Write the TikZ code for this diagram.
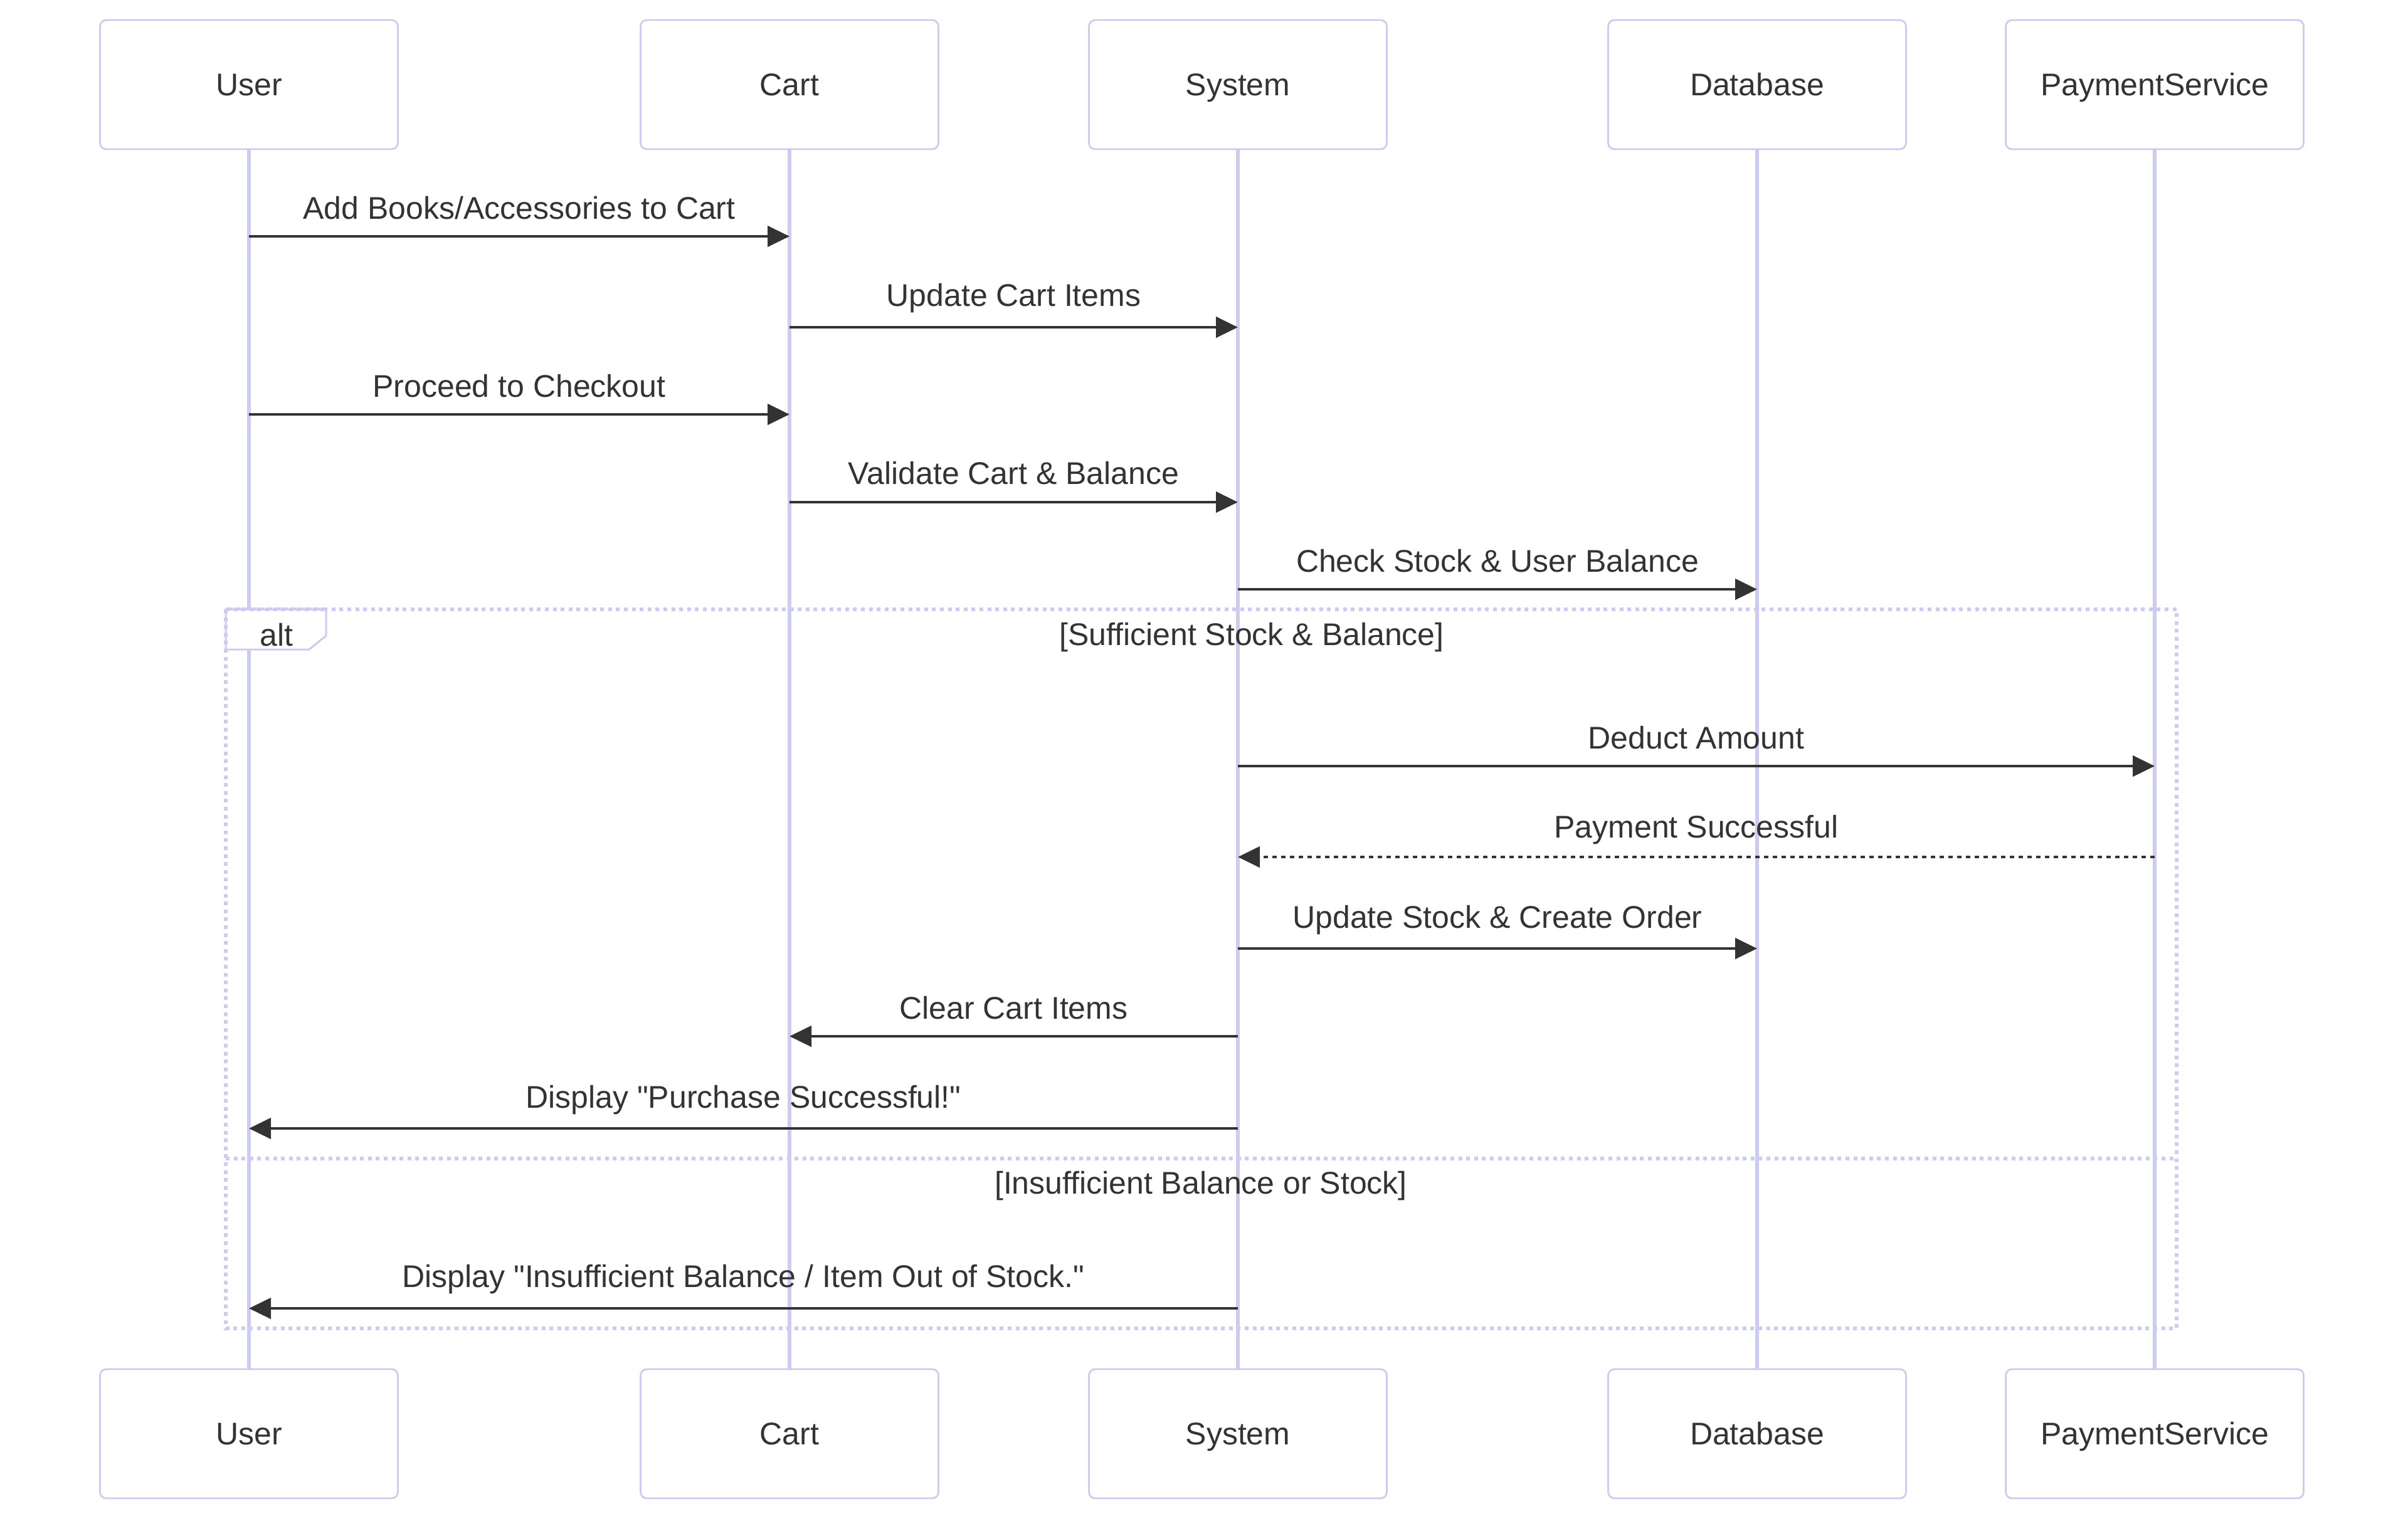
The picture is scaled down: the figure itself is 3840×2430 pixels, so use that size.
\documentclass[tikz,border=0pt]{standalone}
\usepackage{fontspec}
\setmainfont{Liberation Sans}[Ligatures=TeXOff]
\usetikzlibrary{arrows.meta}
\definecolor{lav}{HTML}{CCCCF0}
\definecolor{ink}{HTML}{333333}

% draws a message arrow between two lifelines and its centred label
% #1 style, #2 from, #3 to, #4 arrow y, #5 label y, #6 label name, #7 text
\newcommand\seqmsg[7]{%
  \draw[#1] (#2 |- 0,#4) -- (#3 |- 0,#4);
  \path (#2 |- 0,#5) -- node[lbl] (#6) {#7} (#3 |- 0,#5);}

\begin{document}
\begin{tikzpicture}[x=0.25pt,y=-0.25pt,
  every node/.style={font=\fontsize{12.5}{15}\selectfont, text=ink},
  actor/.style={draw=lav, line width=0.7pt, rounded corners=2.5pt, fill=white,
    minimum width=118.75pt, minimum height=51.5pt, inner sep=0pt,
    text height=8.95pt, text depth=0pt},
  life/.style={draw=lav, line width=1.5pt},
  lbl/.style={anchor=base, inner sep=0pt, yshift=-4.5pt},
  msg/.style={draw=ink, line width=1.15pt, -{Triangle[length=8.75pt,width=8.25pt]}},
  reply/.style={msg, dash pattern=on 1.75pt off 1.75pt},
  frame/.style={draw=lav, line width=1.4pt, dash pattern=on 1.5pt off 1.65pt},
]
\useasboundingbox[fill=white] (0,0) rectangle (3840,2430);

% participants, top and bottom
\node[actor] (uT) at (397,135) {User};
\node[actor] (cT) at (1259,135) {Cart};
\node[actor] (sT) at (1974,135) {System};
\node[actor] (dT) at (2802,135) {Database};
\node[actor] (pT) at (3436,135) {PaymentService};
\node[actor] (uB) at (397,2287) {User};
\node[actor] (cB) at (1259,2287) {Cart};
\node[actor] (sB) at (1974,2287) {System};
\node[actor] (dB) at (2802,2287) {Database};
\node[actor] (pB) at (3436,2287) {PaymentService};

% lifelines
\foreach \p in {u,c,s,d,p}
  \draw[life] (\p T.south) -- (\p B.north);

% alt frame with its tab
\draw[frame] (360,972) rectangle (3471,2119);
\draw[frame] (360,1848) -- (3471,1848);
\filldraw[fill=white, draw=lav, line width=0.75pt]
  (360,972) -- (520,972) -- (520,1014) -- (493,1036) -- (360,1036) -- cycle;
\draw[frame] (360,972) -- (520,972);
\draw[frame] (360,972) -- (360,1036);
\node[lbl] (alt) at (441,1012) {alt};
\node[lbl] (g1) at (1996,1011) {[Sufficient Stock \& Balance]};
\node[lbl] (g2) at (1915,1886) {[Insufficient Balance or Stock]};

% messages
\seqmsg{msg}{uT}{cT}{377}{331}{m1}{Add Books/Accessories to Cart}
\seqmsg{msg}{cT}{sT}{522}{470}{m2}{Update Cart Items}
\seqmsg{msg}{uT}{cT}{661}{615}{m3}{Proceed to Checkout}
\seqmsg{msg}{cT}{sT}{801}{754}{m4}{Validate Cart \& Balance}
\seqmsg{msg}{sT}{dT}{940}{894}{m5}{Check Stock \& User Balance}
\seqmsg{msg}{sT}{pT}{1222}{1176}{m6}{Deduct Amount}
\seqmsg{reply}{pT}{sT}{1367}{1318}{m7}{Payment Successful}
\seqmsg{msg}{sT}{dT}{1513}{1462}{m8}{Update Stock \& Create Order}
\seqmsg{msg}{sT}{cT}{1653}{1607}{m9}{Clear Cart Items}
\seqmsg{msg}{sT}{uT}{1800}{1749}{m10}{Display "Purchase Successful!"}
\seqmsg{msg}{sT}{uT}{2087}{2035}{m11}{Display "Insufficient Balance / Item Out of Stock."}
\end{tikzpicture}
\end{document}
